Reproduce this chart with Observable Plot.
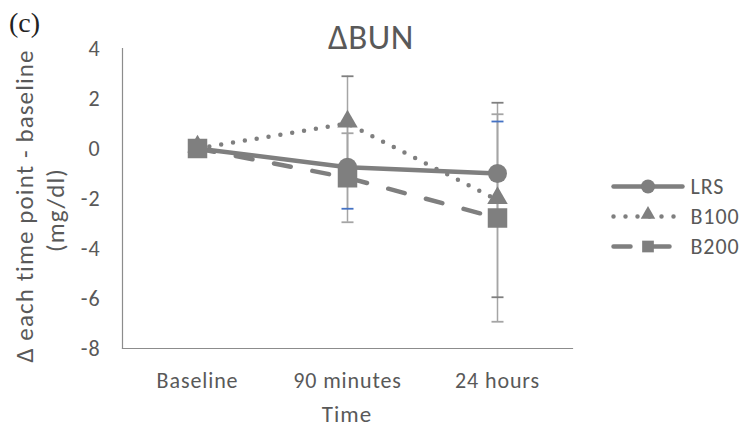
<!DOCTYPE html>
<html><head><meta charset="utf-8">
<script src="https://cdn.jsdelivr.net/npm/d3@7"></script>
<script src="https://cdn.jsdelivr.net/npm/@observablehq/plot@0.6"></script>
<style>
body{margin:0;background:#fff;}
#wrap{position:relative;width:742px;height:428px;overflow:hidden;}
#main,#legend,#notes{position:absolute;left:0;top:0;}
#legend{left:570px;top:150px;}
</style></head><body>
<div id="wrap">
  <div id="main"></div>
  <div id="legend"></div>
  <div id="notes"></div>
</div>
<script>
// ---- data ----
const times = ["Baseline", "90 minutes", "24 hours"];
const seriesNames = ["LRS", "B100", "B200"];
const lrsValues = [0, -0.75, -1.0];
const b100Values = [0, 1.0, -2.06];
const b200Values = [0, -1.17, -2.78];
const lrsErr = [0, 1.66, 2.08];
const b100Err = [0, 1.89, 3.89];
const b200Err = [0, 1.78, 4.15];
const yTicks = [-8, -6, -4, -2, 0, 2, 4];
const titleText = "ΔBUN";
const panelText = "(c)";
const yTitleLines = ["Δ each time point - baseline", "(mg/dl)"];
const xTitleText = "Time";

const valuesBySeries = {LRS: lrsValues, B100: b100Values, B200: b200Values};
const errBySeries = {LRS: lrsErr, B100: b100Err, B200: b200Err};
const rows = seriesNames.flatMap(s => times.map((t, i) => ({
  series: s, time: t, value: valuesBySeries[s][i], err: errBySeries[s][i],
  lo: valuesBySeries[s][i] - errBySeries[s][i], hi: valuesBySeries[s][i] + errBySeries[s][i]
})));
const bars = rows.filter(d => d.err > 0);
const of = s => rows.filter(d => d.series === s);

const FONT = "Carlito, Calibri, 'Open Sans', sans-serif";
const gray = "#7f7f7f";
const textColor = "#595959";
const capColor = {LRS: "#4472c4", B100: "#7f7f7f", B200: "#a5a5a5"};
const capSymbol = {draw(ctx) { ctx.moveTo(-6, 0); ctx.lineTo(6, 0); }};
const style = {
  LRS: {dash: null, symbol: "circle", r: 9.5, dy: 0, lr: 7, ldy: 0},
  B100: {dash: "0 12", symbol: "triangle", r: 7.6, dy: -2, lr: 5.4, ldy: -2},
  B200: {dash: "17 22", symbol: "square", r: 11, dy: 0, lr: 6.6, ldy: 0}
};

const marks = [
  Plot.frame({anchor: "left", stroke: "#8c8c8c", strokeWidth: 1.2}),
  Plot.frame({anchor: "bottom", stroke: "#8c8c8c", strokeWidth: 1.2}),
  Plot.axisY({ticks: yTicks, tickSize: 0, tickPadding: 22, fontSize: 22, fill: textColor, label: null, tickFormat: d => String(d)}),
  Plot.axisX({tickSize: 0, tickPadding: 24, fontSize: 22, fill: textColor, label: null}),
  Plot.ruleX(bars, {x: "time", y1: "lo", y2: "hi", stroke: "#a5a5a5", strokeWidth: 1.5})
];
for (const s of seriesNames) {
  const b = bars.filter(d => d.series === s);
  marks.push(Plot.dot(b, {x: "time", y: "lo", symbol: capSymbol, r: 5, stroke: capColor[s], strokeWidth: 1.8, fill: "none"}));
  marks.push(Plot.dot(b, {x: "time", y: "hi", symbol: capSymbol, r: 5, stroke: capColor[s], strokeWidth: 1.8, fill: "none"}));
}
for (const s of seriesNames) {
  marks.push(Plot.line(of(s), {x: "time", y: "value", stroke: gray, strokeWidth: 4.5, strokeDasharray: style[s].dash, strokeLinecap: "round"}));
}
for (const s of seriesNames) {
  marks.push(Plot.dot(of(s), {x: "time", y: "value", symbol: style[s].symbol, r: style[s].r, fill: gray, stroke: "none", dy: style[s].dy}));
}

const chart = Plot.plot({
  width: 742, height: 428,
  marginLeft: 122, marginRight: 170, marginTop: 48, marginBottom: 80,
  style: {fontFamily: FONT, color: textColor, background: "white", letterSpacing: "0.9px"},
  x: {type: "point", domain: times, padding: 0.5},
  y: {domain: [-8, 4]},
  marks
});
document.getElementById("main").append(chart);

// legend
const legRows = seriesNames.map(s => ({series: s}));
const legMarks = [];
for (const s of seriesNames) {
  legMarks.push(Plot.link([{series: s}], {x1: () => 0, x2: () => 1, y1: "series", y2: "series", stroke: gray, strokeWidth: 4.5, strokeDasharray: style[s].dash, strokeLinecap: "round"}));
  legMarks.push(Plot.dot([{series: s}], {x: () => 0.5, y: "series", symbol: style[s].symbol, r: style[s].lr, fill: gray, dy: style[s].ldy}));
}
legMarks.push(Plot.text(legRows, {x: () => 1, y: "series", text: "series", textAnchor: "start", dx: 8, fontSize: 22, fill: textColor}));
const legend = Plot.plot({
  width: 172, height: 130, margin: 0,
  style: {fontFamily: FONT, background: "transparent", overflow: "visible", letterSpacing: "0.9px"},
  x: {domain: [0, 1], range: [43, 112], axis: null},
  y: {type: "point", domain: seriesNames, range: [20, 112], axis: null},
  marks: legMarks
});
document.getElementById("legend").append(legend);

// titles (text overlay)
const svg = d3.create("svg").attr("width", 742).attr("height", 428)
  .style("font-family", FONT).style("overflow", "visible");
svg.append("text").attr("x", 9).attr("y", 32).attr("font-family", "'Liberation Serif', 'DejaVu Serif', serif")
  .attr("font-size", 28).attr("fill", "#222").text(panelText);
svg.append("text").attr("x", 371).attr("y", 49).attr("text-anchor", "middle")
  .attr("font-size", 35).attr("fill", textColor).style("letter-spacing", "0.5px").text(titleText);
const yt = svg.append("text").attr("transform", "translate(33,206) rotate(-90)").attr("text-anchor", "middle")
  .attr("font-size", 25).attr("fill", textColor).style("letter-spacing", "1.1px");
yt.append("tspan").attr("x", 0).attr("y", 0).text(yTitleLines[0]);
yt.append("tspan").attr("x", -4).attr("y", 31).text(yTitleLines[1]);
svg.append("text").attr("x", 347).attr("y", 422).attr("text-anchor", "middle")
  .attr("font-size", 23).attr("fill", textColor).style("letter-spacing", "1px").text(xTitleText);
document.getElementById("notes").append(svg.node());
</script>
</body></html>
